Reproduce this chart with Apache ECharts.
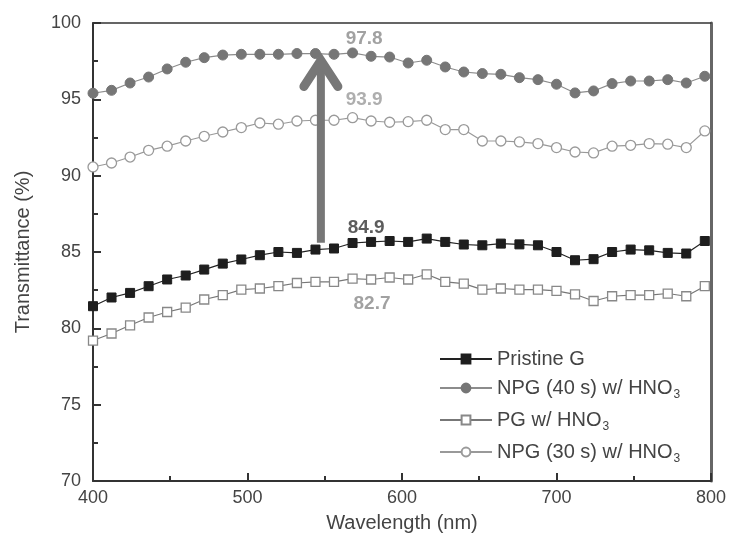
<!DOCTYPE html>
<html>
<head>
<meta charset="utf-8">
<title>Transmittance</title>
<script src="https://cdn.jsdelivr.net/npm/echarts@6/dist/echarts.min.js"></script>
<style>
html,body{margin:0;padding:0;background:#fff;}
#myChart{width:729px;height:540px;}
</style>
</head>
<body>
<div id="myChart"></div>
<script>
// 波长 (nm)
var wavelength = [400,412,424,436,448,460,472,484,496,508,520,532,544,556,568,580,592,604,616,628,640,652,664,676,688,700,712,724,736,748,760,772,784,796];
// 各样品透过率 (%)
var pristineG = [81.45,82.02,82.32,82.76,83.2,83.46,83.85,84.24,84.51,84.79,85.0,84.94,85.16,85.23,85.59,85.66,85.72,85.66,85.88,85.66,85.49,85.44,85.55,85.5,85.44,85.0,84.46,84.53,85.0,85.16,85.11,84.94,84.9,85.72];
var npg40 = [95.40,95.59,96.07,96.46,96.99,97.43,97.73,97.90,97.95,97.95,97.95,98.0,98.0,97.95,98.04,97.82,97.77,97.38,97.56,97.12,96.79,96.69,96.64,96.42,96.29,95.99,95.42,95.55,96.03,96.2,96.2,96.29,96.07,96.51];
var pgHno3 = [79.2,79.66,80.2,80.71,81.07,81.36,81.89,82.17,82.54,82.61,82.76,82.97,83.04,83.04,83.26,83.2,83.33,83.2,83.54,83.04,82.93,82.54,82.61,82.54,82.54,82.45,82.23,81.79,82.1,82.17,82.17,82.28,82.1,82.76];
var npg30 = [90.57,90.83,91.22,91.66,91.93,92.27,92.58,92.86,93.15,93.45,93.37,93.58,93.63,93.63,93.8,93.58,93.5,93.54,93.63,93.02,93.02,92.27,92.27,92.21,92.1,91.84,91.55,91.49,91.93,91.99,92.1,92.06,91.84,92.93];
var seriesNames = ['Pristine G','NPG (40 s) w/ HNO3','PG w/ HNO3','NPG (30 s) w/ HNO3'];
// 坐标轴刻度
var xTicks = [400,500,600,700,800];
var yTicks = [70,75,80,85,90,95,100];
// 标注文字
var noteText = ['97.8','93.9','84.9','82.7'];
var noteWl = [575.5,575.5,576.8,580.6];
var noteVal = [99.0,94.94,86.6,81.6];
var noteColor = ['#8a8a8a','#9a9a9a','#333333','#8a8a8a'];
// 箭头
var arrowWl = [547.5];
var arrowFrom = [85.6];
var arrowTo = [98.0];

function pairs(xs, ys){
    var out = [];
    for(var i=0;i<xs.length;i++){ out.push([xs[i], ys[i]]); }
    return out;
}

var font = "'Liberation Sans', Arial, sans-serif";
var myChart = echarts.init(document.getElementById('myChart'));

var noteData = [];
for(var i=0;i<noteText.length;i++){
    noteData.push({value:[noteWl[i], noteVal[i]], label:{color:noteColor[i]}});
}
var arrowData = [];
for(var j=0;j<arrowWl.length;j++){
    arrowData.push([arrowWl[j], arrowFrom[j], arrowTo[j]]);
}

var options = {
    animation: false,
    backgroundColor: '#fff',
    grid: {left:93, right:16, top:23, bottom:59},
    legend: {
        data: seriesNames,
        orient: 'vertical',
        left: 434,
        top: 344,
        itemWidth: 52,
        itemHeight: 11,
        itemGap: 9,
        textStyle: {
            fontFamily: font, fontSize: 20, color: '#444',
            rich: { sub: {fontFamily: font, fontSize: 12, color:'#444', padding:[14,0,0,1]} }
        },
        formatter: function(name){ return name.replace(/HNO3$/, 'HNO{sub|3}'); }
    },
    xAxis: [{
        type: 'value', min: 400, max: 800, interval: 100,
        name: 'Wavelength (nm)', nameLocation: 'middle', nameGap: 32,
        nameTextStyle: {fontFamily: font, fontSize: 20, color: '#444'},
        axisLine: {lineStyle: {color: '#333', width: 2}},
        axisTick: {inside: true, length: 8, lineStyle: {color:'#333', width: 2}},
        minorTick: {show: true, splitNumber: 2, length: 5, lineStyle: {color:'#333', width: 2}},
        axisLabel: {fontFamily: font, fontSize: 18, color: '#444', margin: 8,
            formatter: function(v){ return xTicks.indexOf(v) >= 0 ? String(v) : ''; }},
        splitLine: {show: false}
    },{
        type: 'value', min: 400, max: 800, position: 'top',
        axisLine: {lineStyle: {color: '#333', width: 1.5}},
        axisTick: {show: false}, axisLabel: {show: false}, splitLine: {show: false}
    }],
    yAxis: [{
        type: 'value', min: 70, max: 100, interval: 5,
        name: 'Transmittance (%)', nameLocation: 'middle', nameGap: 60,
        nameTextStyle: {fontFamily: font, fontSize: 20, color: '#444'},
        axisLine: {show: true, lineStyle: {color: '#333', width: 2}},
        axisTick: {inside: true, length: 8, lineStyle: {color:'#333', width: 2}},
        minorTick: {show: true, splitNumber: 2, length: 5, lineStyle: {color:'#333', width: 2}},
        axisLabel: {fontFamily: font, fontSize: 18, color: '#444', margin: 12,
            formatter: function(v){ return yTicks.indexOf(v) >= 0 ? String(v) : ''; }},
        splitLine: {show: false}
    },{
        type: 'value', min: 70, max: 100, position: 'right',
        axisLine: {show: true, lineStyle: {color: '#666', width: 3}},
        axisTick: {show: false}, axisLabel: {show: false}, splitLine: {show: false}
    }],
    series: [
        {
            name: seriesNames[0], type: 'line', data: pairs(wavelength, pristineG),
            symbol: 'rect', symbolSize: 9,
            lineStyle: {color: '#222', width: 1.2},
            itemStyle: {color: '#1e1e1e', borderColor: '#1e1e1e', borderWidth: 1}
        },
        {
            name: seriesNames[1], type: 'line', data: pairs(wavelength, npg40),
            symbol: 'circle', symbolSize: 10,
            lineStyle: {color: '#8c8c8c', width: 1.2},
            itemStyle: {color: '#767676', borderColor: '#767676', borderWidth: 1}
        },
        {
            name: seriesNames[2], type: 'line', data: pairs(wavelength, pgHno3),
            symbol: 'rect', symbolSize: 9,
            lineStyle: {color: '#777', width: 1.2},
            itemStyle: {color: '#fff', borderColor: '#888', borderWidth: 1.3}
        },
        {
            name: seriesNames[3], type: 'line', data: pairs(wavelength, npg30),
            symbol: 'circle', symbolSize: 10,
            lineStyle: {color: '#999', width: 1.2},
            itemStyle: {color: '#fff', borderColor: '#9a9a9a', borderWidth: 1.3}
        },
        {
            name: 'arrow', type: 'custom', silent: true, z: 5,
            data: arrowData,
            renderItem: function(params, api){
                var base = api.coord([api.value(0), api.value(1)]);
                var tip = api.coord([api.value(0), api.value(2)]);
                return {type: 'group', children: [
                    {type: 'line', shape: {x1: base[0], y1: base[1], x2: tip[0], y2: tip[1] + 8},
                        style: {stroke: '#777', lineWidth: 8}},
                    {type: 'polyline', shape: {points: [[tip[0]-17, tip[1]+33],[tip[0], tip[1]+7],[tip[0]+17, tip[1]+33]]},
                        style: {stroke: '#777', fill: null, lineWidth: 9, lineCap: 'round', lineJoin: 'miter'}}
                ]};
            }
        },
        {
            name: 'notes', type: 'scatter', silent: true, z: 6,
            symbolSize: 1, itemStyle: {color: 'rgba(0,0,0,0)'},
            data: noteData,
            label: {show: true, position: 'inside', fontFamily: font, fontSize: 19, fontWeight: 'bold',
                formatter: function(p){ return noteText[p.dataIndex]; }}
        }
    ]
};
myChart.setOption(options);
</script>
</body>
</html>
